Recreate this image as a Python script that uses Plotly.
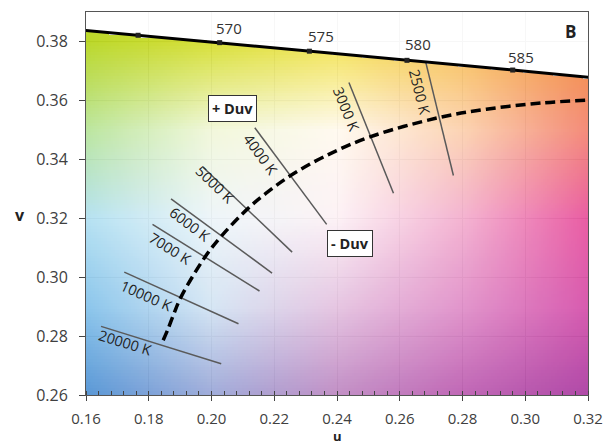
import numpy as np
import plotly.graph_objects as go

# ---- data ----
locus_nm = [560, 565, 570, 575, 580, 585, 590]
locus_u = [0.1531, 0.1766, 0.2026, 0.2312, 0.2623, 0.2960, 0.3315]
locus_v = [0.3844, 0.3821, 0.3796, 0.3767, 0.3736, 0.3703, 0.3667]
locus_labels = ["", "", "570", "575", "580", "585", ""]

planck_T = [20000, 15000, 12000, 10000, 7000, 6000, 5000, 4500, 4000, 3500, 3000, 2500, 2200, 2000, 1800]
planck_u = [0.1846, 0.1860, 0.1879, 0.1903, 0.1981, 0.2033, 0.2114, 0.2173, 0.2251, 0.2357, 0.2505, 0.2722, 0.2876, 0.3051, 0.3231]
planck_v = [0.2786, 0.2820, 0.2873, 0.2933, 0.3071, 0.3141, 0.3231, 0.3284, 0.3344, 0.3408, 0.3476, 0.3541, 0.3570, 0.3591, 0.3603]

iso_labels = ["20000 K", "10000 K", "7000 K", "6000 K", "5000 K", "4000 K", "3000 K", "2500 K"]
iso_u0 = [0.1648, 0.1722, 0.1812, 0.1871, 0.1974, 0.2138, 0.2438, 0.2683]
iso_v0 = [0.2833, 0.3017, 0.3179, 0.3266, 0.3372, 0.3507, 0.3661, 0.3729]
iso_u1 = [0.2031, 0.2086, 0.2153, 0.2193, 0.2257, 0.2367, 0.2580, 0.2771]
iso_v1 = [0.2706, 0.2842, 0.2953, 0.3014, 0.3085, 0.3179, 0.3285, 0.3345]

x_ticks = [0.16, 0.18, 0.20, 0.22, 0.24, 0.26, 0.28, 0.30, 0.32]
y_ticks = [0.26, 0.28, 0.30, 0.32, 0.34, 0.36, 0.38]

# ---- layout helpers (label placement, styling) ----
iso_label_pos = [(0.1725, 0.2779, 17), (0.1790, 0.2937, 24), (0.1868, 0.3097, 32), (0.1932, 0.3180, 37),
                 (0.2012, 0.3315, 44), (0.2156, 0.3415, 54), (0.2430, 0.3569, 68), (0.2663, 0.3630, 76)]
locus_label_pos = [None, None, (0.2057, 0.3847), (0.2348, 0.3819), (0.2657, 0.3792), (0.2986, 0.3748), None]

# background colour field (decorative)
bg_u_nodes = [0.16, 0.20, 0.24, 0.28, 0.32]
bg_v_nodes = [0.26, 0.29, 0.32, 0.35, 0.38, 0.39]
bg_rows = [
    ['#5a98d6', '#a0acda', '#c290c6', '#c068b6', '#b04aa8'],
    ['#8cc6ec', '#d6e6f4', '#e6c6e2', '#e296cc', '#d85cb0'],
    ['#b6e2f2', '#eef6fa', '#fdf2f6', '#f4b4d2', '#ea5ea4'],
    ['#bce6a0', '#f2f8dc', '#fffaf0', '#fcd4b4', '#f48c7a'],
    ['#bcd82c', '#d8e03a', '#f4e456', '#f8c25c', '#f49448'],
    ['#bcd82c', '#d8e03a', '#f4e456', '#f8c25c', '#f49448'],
]


def hex2rgb(h):
    h = h.lstrip('#')
    return [int(h[i:i + 2], 16) for i in (0, 2, 4)]


nodes = np.array([[hex2rgb(c) for c in row] for row in bg_rows], dtype=float)  # (nv, nu, 3)
nx, ny = 251, 131
gu = np.linspace(0.16, 0.32, nx)
gv = np.linspace(0.26, 0.39, ny)
tmp = np.zeros((len(bg_v_nodes), nx, 3))
for i in range(len(bg_v_nodes)):
    for c in range(3):
        tmp[i, :, c] = np.interp(gu, bg_u_nodes, nodes[i, :, c])
img = np.zeros((ny, nx, 3))
for j in range(nx):
    for c in range(3):
        img[:, j, c] = np.interp(gv, bg_v_nodes, tmp[:, j, c])
lim = np.interp(gu, locus_u, locus_v)
mask = gv[:, None] > lim[None, :]
op = 0.92
img = np.clip((img - 255 * (1 - op)) / op, 0, 255)
img[mask] = 255
img = img.round().astype(int)

fig = go.Figure()
fig.add_trace(go.Image(z=img.tolist(), x0=0.16, dx=0.16 / (nx - 1), y0=0.26, dy=0.13 / (ny - 1),
                       opacity=op, hoverinfo='skip'))

for k in range(len(iso_labels)):
    fig.add_trace(go.Scatter(x=[iso_u0[k], iso_u1[k]], y=[iso_v0[k], iso_v1[k]], mode='lines',
                             line=dict(color='#5a5a5a', width=1.5), showlegend=False, hoverinfo='skip'))

fig.add_trace(go.Scatter(x=planck_u, y=planck_v, mode='lines', line=dict(color='black', width=3.5, dash='10px,5px'),
                         showlegend=False, line_shape='spline', hoverinfo='skip'))

fig.add_trace(go.Scatter(x=locus_u, y=locus_v, mode='lines+markers', line=dict(color='black', width=3),
                         marker=dict(symbol='square', size=5, color='#222'), showlegend=False, hoverinfo='skip'))

font_main = "Open Sans, Noto Sans, sans-serif"
ann = []
for k, lab in enumerate(iso_labels):
    x, y, a = iso_label_pos[k]
    ann.append(dict(x=x, y=y, text=lab, textangle=a, showarrow=False, font=dict(size=14.5, color='#222', family=font_main)))
for k, lab in enumerate(locus_labels):
    if lab:
        x, y = locus_label_pos[k]
        ann.append(dict(x=x, y=y, text=lab, showarrow=False, font=dict(size=15, color='#333', family=font_main)))
ann.append(dict(x=0.2066, y=0.3572, text='<b>+ Duv</b>', showarrow=False, bgcolor='white', bordercolor='#333',
                borderwidth=1, borderpad=3, font=dict(size=14.5, color='#222', family=font_main)))
ann.append(dict(x=0.2440, y=0.3113, text='<b>- Duv</b>', showarrow=False, bgcolor='white', bordercolor='#333',
                borderwidth=1, borderpad=3, font=dict(size=14.5, color='#222', family=font_main)))
ann.append(dict(x=0.3143, y=0.3833, text='<b>B</b>', showarrow=False, font=dict(size=17, color='#222', family=font_main)))
ann.append(dict(xref='paper', yref='paper', x=-0.145, y=0.47, text='<b>v</b>', showarrow=False,
                font=dict(size=16, color='#222', family=font_main)))
ann.append(dict(xref='paper', yref='paper', x=0.5, y=-0.1332, yanchor='bottom', text='<b>u</b>', showarrow=False,
                font=dict(size=13, color='#222', family=font_main), borderpad=0))

fig.update_layout(
    width=607, height=446, margin=dict(l=86, r=19, t=12, b=51, autoexpand=False),
    paper_bgcolor='white', plot_bgcolor='white', annotations=ann, showlegend=False,
)
fig.update_xaxes(range=[0.16, 0.32], tickvals=x_ticks, ticktext=[f"{t:.2f}" for t in x_ticks],
                 showgrid=True, gridcolor='#9a9a9a', gridwidth=1, zeroline=False,
                 showline=True, linecolor='#555', linewidth=1, mirror=True, scaleanchor=False, constrain='range',
                 ticks='outside', ticklen=5, tickcolor='#444', ticklabelstandoff=5,
                 minor=dict(ticks='inside', ticklen=4, dtick=0.004, tick0=0.16, tickcolor='#444', showgrid=False),
                 tickfont=dict(size=15, color='#404040', family=font_main), layer='above traces')
fig.update_yaxes(range=[0.26, 0.39], tickvals=y_ticks, ticktext=[f"{t:.2f}" for t in y_ticks],
                 showgrid=True, gridcolor='#9a9a9a', gridwidth=1, zeroline=False,
                 showline=True, linecolor='#555', linewidth=1, mirror=True, scaleanchor=False, constrain='range',
                 ticks='outside', ticklen=6, tickcolor='#444', ticklabelstandoff=8,
                 tickfont=dict(size=16, color='#404040', family=font_main), layer='above traces')

fig.write_html("out.html")
